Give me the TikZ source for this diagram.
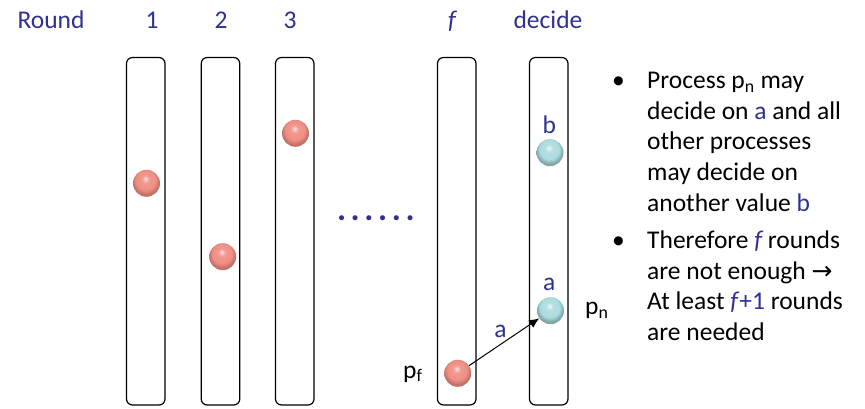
\documentclass[tikz,border=0pt]{standalone}
\usepackage{fontspec}
\setmainfont{Carlito}
\newfontfamily\dejavu{DejaVu Sans}
\usetikzlibrary{arrows.meta}
\definecolor{tblue}{RGB}{46,49,146}
\definecolor{pinkc}{RGB}{240,142,132}
\definecolor{cyanc}{RGB}{172,220,224}
\pgfdeclareradialshading{pinkball}{\pgfqpoint{-2bp}{9bp}}{color(0bp)=(pinkc!25!white); color(7bp)=(pinkc!90!white); color(18bp)=(pinkc); color(25bp)=(pinkc!80!black); color(50bp)=(pinkc!80!black)}
\pgfdeclareradialshading{cyanball}{\pgfqpoint{-2bp}{9bp}}{color(0bp)=(cyanc!25!white); color(7bp)=(cyanc!90!white); color(18bp)=(cyanc); color(25bp)=(cyanc!75!black); color(50bp)=(cyanc!75!black)}
\tikzset{
  col/.style={draw, line width=1.2pt, rounded corners=6pt, minimum width=38.5pt, minimum height=347.5pt, inner sep=0pt},
  pball/.style={circle, inner sep=0pt, minimum size=27pt, shading=pinkball},
  cball/.style={circle, inner sep=0pt, minimum size=27pt, shading=cyanball},
  txt/.style={inner sep=0pt, font=\fontsize{25.5}{30.8}\selectfont},
  lbl/.style={txt, text=tblue, anchor=base},
  bline/.style={txt, anchor=base west},
  bul/.style={txt, anchor=base}
}
\begin{document}
\begin{tikzpicture}[x=1pt,y=-1pt]
\useasboundingbox (0,0) rectangle (865,409);
% header labels
\node[lbl] (hr) at (51,28.7) {Round};
\node[lbl] (h1) at (152,28.7) {1};
\node[lbl] (h2) at (221,28.7) {2};
\node[lbl] (h3) at (290,28.7) {3};
\node[lbl] (hf) at (452,28.7) {\itshape f};
\node[lbl] (hd) at (548,28.7) {decide};
% columns
\node[col] (c1) at (145.75,231.25) {};
\node[col] (c2) at (220.5,231.25) {};
\node[col] (c3) at (294.75,231.25) {};
\node[col] (cf) at (456.75,231.25) {};
\node[col] (cd) at (548.75,231.25) {};
% balls
\node[pball] (b1) at (146.5,183.3) {};
\node[pball] (b2) at (222.7,256.7) {};
\node[pball] (b3) at (295.5,133.3) {};
\node[pball] (bf) at (457.7,373.3) {};
\node[cball] (bb) at (550,152.7) {};
\node[cball] (ba) at (550.5,310.7) {};
% dots
\node[txt, text=tblue, anchor=base, font=\fontsize{34}{40}\selectfont\bfseries] (dots) at (375.85,220) {\makebox[13.7pt]{.}\makebox[13.7pt]{.}\makebox[13.7pt]{.}\makebox[13.7pt]{.}\makebox[13.7pt]{.}\makebox[13.7pt]{.}};
% labels near balls
\node[lbl] (lb) at (549.3,133.3) {b};
\node[lbl] (la) at (549.3,290.5) {a};
\node[bline] (pn) at (585,314.7) {p\textsubscript{n}};
\node[bline] (pf) at (403,378) {p\textsubscript{f}};
% arrow
\draw[line width=1pt, -{Latex[length=10pt,width=9pt]}] (bf) -- node[lbl, pos=0.45, above=7pt, anchor=base] (al) {a} (ba);
% bullets
\node[bul] (u1) at (618.5,88.3) {•};
\node[bline] (t1) at (647,88.3) {Process p\textsubscript{n} may};
\node[bline] (t2) at (647,119.1) {decide on \textcolor{tblue}{a} and all};
\node[bline] (t3) at (647,149.9) {other processes};
\node[bline] (t4) at (647,180.7) {may decide on};
\node[bline] (t5) at (647,211.5) {another value \textcolor{tblue}{b}};
\node[bul] (u2) at (618.5,248.3) {•};
\node[bline] (s1) at (647,248.3) {Therefore \textcolor{tblue}{\itshape f} rounds};
\node[bline] (s2) at (647,279.1) {are not enough {\dejavu\fontsize{25}{28}\selectfont →}};
\node[bline] (s3) at (647,309.9) {At least \textcolor{tblue}{\itshape f\/\upshape +1} rounds};
\node[bline] (s4) at (647,340.7) {are needed};
\end{tikzpicture}
\end{document}
